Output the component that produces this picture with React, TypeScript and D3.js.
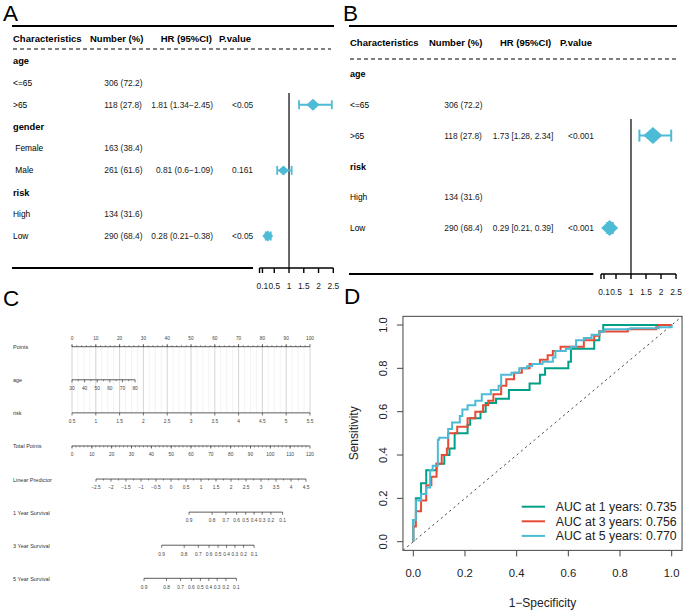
import React from 'react';
import * as d3 from 'd3';

const FONT = '"Liberation Sans", Arial, Helvetica, sans-serif';
const CYAN = '#4DBBD5';
const RED = '#E64B35';
const GREEN = '#00A087';

// ---------- A: univariate cox ----------
const aLabels = ['age', '<=65', '>65', 'gender', ' Female', ' Male', 'risk', 'High', 'Low'];
const aGroups = ['age', 'gender', 'risk'];
const aNumbers = ['', '306 (72.2)', '118 (27.8)', '', '163 (38.4)', '261 (61.6)', '', '134 (31.6)', '290 (68.4)'];
const aHRText = ['', '', '1.81 (1.34\u22122.45)', '', '', '0.81 (0.6\u22121.09)', '', '', '0.28 (0.21\u22120.38)'];
const aPValues = ['', '', '<0.05', '', '', '0.161', '', '', '<0.05'];
const aHR = [null, null, 1.81, null, null, 0.81, null, null, 0.28];
const aLower = [null, null, 1.34, null, null, 0.6, null, null, 0.21];
const aUpper = [null, null, 2.45, null, null, 1.09, null, null, 0.38];

// ---------- B: multivariate cox ----------
const bLabels = ['age', '<=65', '>65', 'risk', 'High', 'Low'];
const bGroups = ['age', 'risk'];
const bNumbers = ['', '306 (72.2)', '118 (27.8)', '', '134 (31.6)', '290 (68.4)'];
const bHRText = ['', '', '1.73 [1.28, 2.34]', '', '', '0.29 [0.21, 0.39]'];
const bPValues = ['', '', '<0.001', '', '', '<0.001'];
const bHR = [null, null, 1.73, null, null, 0.29];
const bLower = [null, null, 1.28, null, null, 0.21];
const bUpper = [null, null, 2.34, null, null, 0.39];

const forestHeaders = ['Characteristics', 'Number (%)', 'HR (95%CI)', 'P.value'];
const forestTicks = [0.1, 0.5, 1, 1.5, 2, 2.5];

// ---------- C: nomogram ----------
const nomoRows = ['Points', 'age', 'risk', 'Total Points', 'Linear Predictor', '1 Year Survival', '3 Year Survival', '5 Year Survival'];
const nomoPointsTicks = [0, 10, 20, 30, 40, 50, 60, 70, 80, 90, 100];
const nomoAgeTicks = [30, 40, 50, 60, 70, 80];
const nomoAgeMaxPoints = 26.5;
const nomoRiskTicks = [0.5, 1, 1.5, 2, 2.5, 3, 3.5, 4, 4.5, 5, 5.5];
const nomoTotalTicks = [0, 10, 20, 30, 40, 50, 60, 70, 80, 90, 100, 110, 120];
const nomoLPTicks = [-2.5, -2, -1.5, -1, -0.5, 0, 0.5, 1, 1.5, 2, 2.5, 3, 3.5, 4, 4.5];
const survTicks = [0.9, 0.8, 0.7, 0.6, 0.5, 0.4, 0.3, 0.2, 0.1];
const surv1LP = [0.6, 1.37, 1.83, 2.19, 2.49, 2.77, 3.04, 3.33, 3.72];
const surv3LP = [-0.31, 0.44, 0.91, 1.27, 1.57, 1.85, 2.13, 2.42, 2.77];
const surv5LP = [-0.9, -0.15, 0.32, 0.68, 0.98, 1.26, 1.54, 1.83, 2.18];

// ---------- D: time ROC ----------
const rocYears = [1, 3, 5];
const rocAUC = [0.735, 0.756, 0.77];
const roc1FPR = [0, 0, 0.01, 0.03, 0.05, 0.09, 0.12, 0.14, 0.16, 0.21, 0.22, 0.26, 0.28, 0.32, 0.37, 0.45, 0.49, 0.51, 0.6, 0.61, 0.7, 0.72, 0.735, 1];
const roc1TPR = [0, 0.1, 0.2, 0.27, 0.33, 0.36, 0.4, 0.43, 0.5, 0.54, 0.57, 0.6, 0.64, 0.66, 0.7, 0.73, 0.77, 0.8, 0.83, 0.89, 0.93, 0.97, 1, 1];
const roc3FPR = [0, 0, 0.01, 0.03, 0.05, 0.07, 0.09, 0.11, 0.13, 0.135, 0.17, 0.21, 0.24, 0.27, 0.29, 0.31, 0.34, 0.36, 0.39, 0.42, 0.45, 0.49, 0.52, 0.54, 0.57, 0.66, 0.7, 0.72, 0.83, 0.94, 0.95, 1];
const roc3TPR = [0, 0.07, 0.14, 0.19, 0.26, 0.3, 0.36, 0.4, 0.43, 0.5, 0.53, 0.57, 0.6, 0.63, 0.65, 0.68, 0.72, 0.75, 0.78, 0.8, 0.82, 0.84, 0.86, 0.88, 0.9, 0.93, 0.95, 0.97, 0.98, 0.99, 1, 1];
const roc5FPR = [0, 0, 0.01, 0.03, 0.05, 0.065, 0.075, 0.095, 0.1, 0.135, 0.15, 0.18, 0.19, 0.21, 0.24, 0.265, 0.3, 0.33, 0.34, 0.38, 0.41, 0.44, 0.46, 0.5, 0.54, 0.55, 0.59, 0.61, 0.63, 0.66, 0.69, 0.72, 0.74, 0.84, 0.95, 1];
const roc5TPR = [0, 0.1, 0.19, 0.22, 0.25, 0.33, 0.35, 0.47, 0.48, 0.52, 0.55, 0.58, 0.61, 0.63, 0.65, 0.68, 0.7, 0.72, 0.77, 0.78, 0.8, 0.81, 0.82, 0.83, 0.85, 0.88, 0.89, 0.9, 0.93, 0.94, 0.955, 0.97, 0.98, 0.985, 0.99, 1];
const rocTicks = [0, 0.2, 0.4, 0.6, 0.8, 1];

type Cfg = {
  left: number; topX2: number; topY: number; headerY: number; dashY: number; dashX2: number;
  headerX: number[]; labelX: number; numX: number; hrEndX: number; pX: number;
  rowTop: number; rowBottom: number; bottomY: number; bottomX2: number;
  axisX0: number; axisX1: number; refTop: number; tickLabelY: number; groupSize: number;
  capH: number; ciW: number; markers: Record<number, [number, number]>;
};

type ForestProps = {
  labels: string[]; groups: string[]; numbers: string[]; hrText: string[]; pvals: string[];
  hr: (number | null)[]; lower: (number | null)[]; upper: (number | null)[]; cfg: Cfg;
};

const Forest: React.FC<ForestProps> = ({ labels, groups, numbers, hrText, pvals, hr, lower, upper, cfg }) => {
  const rowY = d3.scalePoint<number>().domain(d3.range(labels.length)).range([cfg.rowTop, cfg.rowBottom]);
  const x = d3.scaleLinear().domain([0, 2.5]).range([cfg.axisX0, cfg.axisX1]);
  const txt = { fontSize: 8.4, fill: '#1a1a1a' };
  return (
    <g fontFamily={FONT}>
      <line x1={cfg.left} x2={cfg.topX2} y1={cfg.topY} y2={cfg.topY} stroke="#000" strokeWidth={2} />
      {forestHeaders.map((h, i) => (
        <text key={h} x={cfg.headerX[i]} y={cfg.headerY} fontSize={9.5} fontWeight="bold">{h}</text>
      ))}
      <line x1={cfg.left + 1} x2={cfg.dashX2} y1={cfg.dashY} y2={cfg.dashY} stroke="#000" strokeWidth={1} strokeDasharray="4,3" />
      {labels.map((lab, i) => {
        const cy = rowY(i) as number;
        const g = groups.includes(lab);
        return (
          <g key={i}>
            <text x={cfg.labelX} y={cy} dy="0.35em" fontSize={g ? cfg.groupSize : 8.4}
              fontWeight={g ? 'bold' : 'normal'} style={{ whiteSpace: 'pre' }}>{lab}</text>
            {numbers[i] && <text x={cfg.numX} y={cy} dy="0.35em" {...txt}>{numbers[i]}</text>}
            {hrText[i] && <text x={cfg.hrEndX} y={cy} dy="0.35em" textAnchor="end" {...txt}>{hrText[i]}</text>}
            {pvals[i] && <text x={cfg.pX} y={cy} dy="0.35em" {...txt}>{pvals[i]}</text>}
          </g>
        );
      })}
      <line x1={cfg.left} x2={cfg.bottomX2} y1={cfg.bottomY} y2={cfg.bottomY} stroke="#000" strokeWidth={2} />
      <line x1={x(1)} x2={x(1)} y1={cfg.refTop} y2={cfg.bottomY} stroke="#000" strokeWidth={1.2} />
      {hr.map((v, i) => {
        if (v == null) return null;
        const cy = rowY(i) as number;
        const cx = x(v);
        const lo = x(lower[i] as number);
        const hi = x(upper[i] as number);
        const [w, h] = cfg.markers[i];
        return (
          <g key={'m' + i}>
            <line x1={lo} x2={hi} y1={cy} y2={cy} stroke={CYAN} strokeWidth={cfg.ciW} />
            <line x1={lo} x2={lo} y1={cy - cfg.capH} y2={cy + cfg.capH} stroke={CYAN} strokeWidth={cfg.ciW} />
            <line x1={hi} x2={hi} y1={cy - cfg.capH} y2={cy + cfg.capH} stroke={CYAN} strokeWidth={cfg.ciW} />
            <polygon points={`${cx - w},${cy} ${cx},${cy - h} ${cx + w},${cy} ${cx},${cy + h}`} fill={CYAN} />
          </g>
        );
      })}
      <line x1={x(0)} x2={x(2.5)} y1={cfg.bottomY} y2={cfg.bottomY} stroke="#000" strokeWidth={1.6} />
      {[0, ...forestTicks].map((t, i) => (
        <line key={'t' + i} x1={x(t)} x2={x(t)} y1={cfg.bottomY} y2={cfg.bottomY + 5} stroke="#000" strokeWidth={1.4} />
      ))}
      {forestTicks.map(t => (
        <text key={'l' + t} x={x(t)} y={cfg.tickLabelY} textAnchor="middle" fontSize={8.4} fill="#1a1a1a">{t}</text>
      ))}
    </g>
  );
};

const cfgA: Cfg = {
  left: 12, topX2: 334, topY: 26, headerY: 41.5, dashY: 49, dashX2: 331,
  headerX: [13, 90, 160.7, 219], labelX: 13, numX: 104.3, hrEndX: 213, pX: 232,
  rowTop: 61, rowBottom: 236, bottomY: 268, bottomX2: 253,
  axisX0: 259.5, axisX1: 333.3, refTop: 93, tickLabelY: 289, groupSize: 9.3,
  capH: 4.5, ciW: 1.8, markers: { 2: [6.5, 6], 5: [5.5, 5], 8: [5.5, 5.5] },
};

const cfgB: Cfg = {
  left: 349, topX2: 677, topY: 26, headerY: 46, dashY: 59, dashX2: 677,
  headerX: [350, 429, 500, 560], labelX: 350, numX: 444.3, hrEndX: 553.3, pX: 568,
  rowTop: 74, rowBottom: 228, bottomY: 274, bottomX2: 593.3,
  axisX0: 601, axisX1: 676, refTop: 119, tickLabelY: 295, groupSize: 9,
  capH: 6, ciW: 2, markers: { 2: [9.5, 8.5], 5: [8.5, 8] },
};

type AxisSpec = { row: string; major: number[]; labels: string[]; minor: number[]; up?: boolean };

const fmt = (v: number) => String(v).replace('-', '\u2212');

const Nomogram: React.FC = () => {
  const rowY = d3.scalePoint<string>().domain(nomoRows).range([346.7, 578.3]);
  const pts = d3.scaleLinear().domain([0, 100]).range([72, 310]);
  const agePts = d3.scaleLinear().domain([30, 80]).range([0, nomoAgeMaxPoints]);
  const riskPts = d3.scaleLinear().domain([0.5, 5.5]).range([0, 100]);
  const total = d3.scaleLinear().domain([0, 120]).range([72, 310]);
  const lp = d3.scaleLinear().domain([-2.5, 4.5]).range([96, 306]);

  const axes: AxisSpec[] = [
    { row: 'Points', major: nomoPointsTicks.map(pts), labels: nomoPointsTicks.map(fmt), minor: d3.range(0, 100, 2).map(pts), up: true },
    { row: 'age', major: nomoAgeTicks.map(a => pts(agePts(a))), labels: nomoAgeTicks.map(fmt), minor: d3.range(35, 80, 10).map(a => pts(agePts(a))) },
    { row: 'risk', major: nomoRiskTicks.map(r => pts(riskPts(r))), labels: nomoRiskTicks.map(fmt), minor: [] },
    { row: 'Total Points', major: nomoTotalTicks.map(total), labels: nomoTotalTicks.map(fmt), minor: d3.range(0, 120, 2).map(total) },
    { row: 'Linear Predictor', major: nomoLPTicks.map(lp), labels: nomoLPTicks.map(fmt), minor: d3.range(-2.25, 4.5, 0.5).map(lp) },
    { row: '1 Year Survival', major: surv1LP.map(lp), labels: survTicks.map(fmt), minor: [] },
    { row: '3 Year Survival', major: surv3LP.map(lp), labels: survTicks.map(fmt), minor: [] },
    { row: '5 Year Survival', major: surv5LP.map(lp), labels: survTicks.map(fmt), minor: [] },
  ];

  const gridTop = rowY('Points') as number;
  const gridBottom = rowY('risk') as number;
  const grid = d3.range(0, 100.01, 2.5);

  return (
    <g fontFamily={FONT}>
      {grid.map(g => (
        <line key={'g' + g} x1={pts(g)} x2={pts(g)} y1={gridTop} y2={gridBottom}
          stroke={g % 10 === 0 ? '#cfcfcf' : '#eeeeee'} strokeWidth={g % 10 === 0 ? 0.9 : 0.7} />
      ))}
      {axes.map(a => {
        const y = rowY(a.row) as number;
        const dir = a.up ? -1 : 1;
        const x0 = d3.min(a.major) as number;
        const x1 = d3.max(a.major) as number;
        return (
          <g key={a.row}>
            <text x={13} y={y + 2.5} fontSize={5.5} fill="#333">{a.row}</text>
            <line x1={x0} x2={x1} y1={y} y2={y} stroke="#333" strokeWidth={0.8} />
            {a.major.map((mx, i) => (
              <line key={'M' + i} x1={mx} x2={mx} y1={y} y2={y + dir * 2.6} stroke="#333" strokeWidth={0.7} />
            ))}
            {a.minor.map((mx, i) => (
              <line key={'m' + i} x1={mx} x2={mx} y1={y} y2={y + dir * 1.4} stroke="#333" strokeWidth={0.6} />
            ))}
            {a.major.map((mx, i) => (
              <text key={'L' + i} x={mx} y={a.up ? y - 7 : y + 10.3} textAnchor="middle" fontSize={4.8} fill="#444">{a.labels[i]}</text>
            ))}
          </g>
        );
      })}
    </g>
  );
};

const Roc: React.FC = () => {
  const x = d3.scaleLinear().domain([0, 1]).range([413.3, 671.7]);
  const y = d3.scaleLinear().domain([0, 1]).range([541.7, 325]);
  const line = d3.line<[number, number]>().x(d => x(d[0])).y(d => y(d[1])).curve(d3.curveStepAfter);
  const curves = [
    { fpr: roc1FPR, tpr: roc1TPR, color: GREEN },
    { fpr: roc3FPR, tpr: roc3TPR, color: RED },
    { fpr: roc5FPR, tpr: roc5TPR, color: CYAN },
  ];
  const bx0 = x(-0.04), bx1 = x(1.04), by0 = y(-0.04), by1 = y(1.04);
  return (
    <g fontFamily={FONT}>
      <defs>
        <clipPath id="rocClip"><rect x={bx0} y={by1} width={bx1 - bx0} height={by0 - by1} /></clipPath>
      </defs>
      <line x1={bx0} y1={by0} x2={bx1} y2={by1} stroke="#444" strokeWidth={1} strokeDasharray="2.2,3.3" clipPath="url(#rocClip)" />
      {curves.map((c, i) => (
        <path key={i} d={line(c.fpr.map((f, j) => [f, c.tpr[j]] as [number, number])) || ''}
          fill="none" stroke={c.color} strokeWidth={2} clipPath="url(#rocClip)" />
      ))}
      <rect x={bx0} y={by1} width={bx1 - bx0} height={by0 - by1} fill="none" stroke="#444" strokeWidth={1} />
      {rocTicks.map(t => (
        <g key={'x' + t}>
          <line x1={x(t)} x2={x(t)} y1={by0} y2={by0 + 6} stroke="#444" strokeWidth={1} />
          <text x={x(t)} y={577} textAnchor="middle" fontSize={11.3} fill="#222">{t.toFixed(1)}</text>
        </g>
      ))}
      {rocTicks.map(t => (
        <g key={'y' + t}>
          <line x1={bx0} x2={bx0 - 6} y1={y(t)} y2={y(t)} stroke="#444" strokeWidth={1} />
          <text transform={`translate(387.4,${y(t)}) rotate(-90)`} textAnchor="middle" fontSize={11.3} fill="#222">{t.toFixed(1)}</text>
        </g>
      ))}
      <text transform={`translate(357.5,${(by0 + by1) / 2}) rotate(-90)`} textAnchor="middle" fontSize={12} fill="#222">Sensitivity</text>
      <text x={(bx0 + bx1) / 2} y={607} textAnchor="middle" fontSize={12} fill="#222">1{'\u2212'}Specificity</text>
      {rocYears.map((yr, i) => {
        const ly = 506.7 + i * 14.6;
        return (
          <g key={'lg' + yr}>
            <line x1={521.7} x2={545} y1={ly} y2={ly} stroke={curves[i].color} strokeWidth={2} />
            <text x={555.7} y={ly} dy="0.36em" fontSize={12.3} fill="#222">{`AUC at ${yr} years: ${rocAUC[i].toFixed(3)}`}</text>
          </g>
        );
      })}
    </g>
  );
};

const App: React.FC = () => {
  const letters: [string, number, number][] = [['A', 3, 21], ['B', 343, 21], ['C', 3, 305.5], ['D', 344, 303.5]];
  return (
    <svg width={685} height={612} style={{ position: 'absolute', left: 0, top: 0, background: '#fff' }}>
      <rect width={685} height={612} fill="#fff" />
      {letters.map(([l, lx, ly]) => (
        <text key={l} x={lx} y={ly} fontFamily={FONT} fontSize={22.5} fill="#000">{l}</text>
      ))}
      <Forest labels={aLabels} groups={aGroups} numbers={aNumbers} hrText={aHRText} pvals={aPValues}
        hr={aHR} lower={aLower} upper={aUpper} cfg={cfgA} />
      <Forest labels={bLabels} groups={bGroups} numbers={bNumbers} hrText={bHRText} pvals={bPValues}
        hr={bHR} lower={bLower} upper={bUpper} cfg={cfgB} />
      <Nomogram />
      <Roc />
    </svg>
  );
};

export default App;
